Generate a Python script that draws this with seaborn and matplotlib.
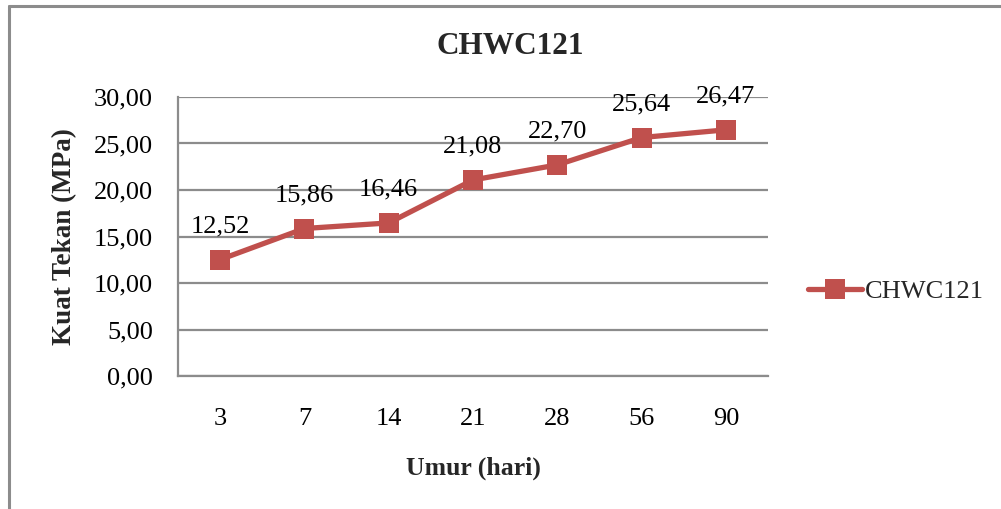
import matplotlib
matplotlib.use("Agg")
import matplotlib.pyplot as plt
from matplotlib.lines import Line2D
import seaborn as sns
import pandas as pd

# Compressive strength of CHWC121 mix by curing age
umur = ["3", "7", "14", "21", "28", "56", "90"]
kuat_tekan = [12.52, 15.86, 16.46, 21.08, 22.70, 25.64, 26.47]
y_ticks = [0, 5, 10, 15, 20, 25, 30]
series_name = "CHWC121"

sns.set_theme(style="white")
plt.rcParams["font.family"] = ["Liberation Serif", "DejaVu Serif"]

red = "#C0504D"
grid_grey = "#8C8C8C"

df = pd.DataFrame({"Umur": umur, "Kuat": kuat_tekan})

fig = plt.figure(figsize=(10.01, 5.09), dpi=100)
ax = fig.add_axes([178 / 1001, 1 - 376 / 509, (768 - 178) / 1001, (376 - 97) / 509])

sns.lineplot(data=df, x="Umur", y="Kuat", sort=False, ax=ax, color=red,
             linewidth=3.8, marker="s", markersize=14, markeredgewidth=0,
             markerfacecolor=red, legend=False, zorder=3)

ax.set_xlim(-0.5, len(umur) - 0.5)
ax.set_ylim(0, 30)
ax.set_yticks(y_ticks)
ax.set_yticklabels([f"{v:.2f}".replace(".", ",") for v in y_ticks])
ax.tick_params(axis="both", length=0, labelsize=19, colors="black")
ax.tick_params(axis="y", pad=18)
ax.tick_params(axis="x", pad=23)

ax.yaxis.grid(True, color=grid_grey, linewidth=1.6)
ax.xaxis.grid(False)
for side in ["top", "right"]:
    ax.spines[side].set_visible(False)
for side in ["left", "bottom"]:
    ax.spines[side].set_color(grid_grey)
    ax.spines[side].set_linewidth(1.6)

# value labels above each point
for i, v in enumerate(kuat_tekan):
    ax.annotate(f"{v:.2f}".replace(".", ","), (i, v), xytext=(0, 24),
                textcoords="offset points", ha="center", va="center",
                fontsize=19, color="black", zorder=4)

ax.set_xlabel("Umur (hari)", fontsize=18.5, fontweight="bold", labelpad=19)
ax.set_ylabel("Kuat Tekan (MPa)", fontsize=19.5, fontweight="bold", labelpad=12)
fig.text(510 / 1001, 1 - 46 / 509, series_name, ha="center", va="center",
         fontsize=22.5, fontweight="bold")

handle = Line2D([], [], color=red, linewidth=3.8, marker="s", markersize=14,
                markeredgewidth=0)
fig.legend([handle], [series_name], loc="center left",
           bbox_to_anchor=(808 / 1001, 1 - 291 / 509), frameon=False,
           fontsize=19, handlelength=2.05, handletextpad=0.1,
           borderaxespad=0, borderpad=0)

# chart frame (left and top edges)
fig.add_artist(Line2D([9 / 1001, 9 / 1001], [0, 1 - 6 / 509],
                      transform=fig.transFigure, color=grid_grey, linewidth=2.2))
fig.add_artist(Line2D([9 / 1001, 1], [1 - 6 / 509, 1 - 6 / 509],
                      transform=fig.transFigure, color=grid_grey, linewidth=2.2))

fig.savefig("out.png", dpi=100, facecolor="white")
